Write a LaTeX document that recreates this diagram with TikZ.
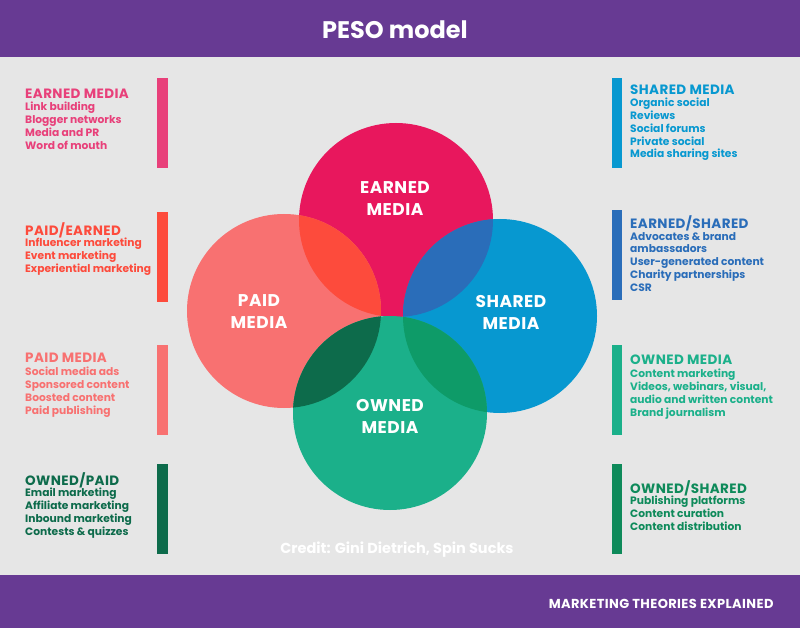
\documentclass[tikz,border=0pt]{standalone}
\usepackage{fontspec}
\setmainfont{Poppins}
\definecolor{bg}{HTML}{E6E6E6}
\definecolor{purp}{HTML}{673A93}
\definecolor{earn}{HTML}{E8175D}
\definecolor{paid}{HTML}{F87171}
\definecolor{share}{HTML}{0798D0}
\definecolor{own}{HTML}{1BB08A}
\definecolor{ep}{HTML}{FD4B3C}
\definecolor{es}{HTML}{2A6DB9}
\definecolor{po}{HTML}{0D6B4B}
\definecolor{so}{HTML}{0E9B68}
\definecolor{earnT}{HTML}{E8407A}
\definecolor{ownS}{HTML}{0E8A5A}
\begin{document}
\begin{tikzpicture}[x=1pt,y=-1pt,
  hd/.style={anchor=west,font=\fontsize{13.5}{15}\selectfont\bfseries\addfontfeature{LetterSpace=3},inner sep=0},
  it/.style={anchor=north west,align=left,font=\fontsize{10.7}{12.8}\selectfont\bfseries,inner sep=0},
  lab/.style={text=white,align=center,font=\fontsize{17}{22}\selectfont\bfseries\addfontfeature{LetterSpace=3}}]
\fill[bg] (0,0) rectangle (800,628);
\fill[purp] (0,0) rectangle (800,57);
\fill[purp] (0,575) rectangle (800,628);
\node[text=white,font=\fontsize{24}{28}\selectfont\bfseries] (title) at (395,30) {PESO model};
\node[text=white,anchor=east,font=\fontsize{13}{14}\selectfont\bfseries\addfontfeature{LetterSpace=3}] (foot) at (777,604) {MARKETING THEORIES EXPLAINED};
% circles
\coordinate (E) at (396,220); \coordinate (P) at (284,311);
\coordinate (S) at (500,316); \coordinate (O) at (390,413);
\def\r{97}
\fill[earn] (E) circle (\r); \fill[paid] (P) circle (\r);
\fill[share] (S) circle (\r); \fill[own] (O) circle (\r);
\begin{scope}\clip (E) circle (\r); \fill[ep] (P) circle (\r); \fill[es] (S) circle (\r);\end{scope}
\begin{scope}\clip (O) circle (\r); \fill[po] (P) circle (\r); \fill[so] (S) circle (\r);\end{scope}
\node[lab] (le) at (395,199) {EARNED\\MEDIA};
\node[lab] (lp) at (259,312) {PAID\\MEDIA};
\node[lab] (ls) at (511,312) {SHARED\\MEDIA};
\node[lab] (lo) at (390,416) {OWNED\\MEDIA};
\node[text=white,font=\fontsize{14.5}{16}\selectfont\bfseries] (credit) at (397,550) {Credit: Gini Dietrich, Spin Sucks};
% left
\fill[earnT] (157,78) rectangle (168,168);
\node[hd,text=earnT] (h1) at (25,94) {EARNED MEDIA};
\node[it,text=earnT] (t1) at (25,102) {Link building\\Blogger networks\\Media and PR\\Word of mouth};
\fill[ep] (157,212) rectangle (168,302);
\node[hd,text=ep] (h2) at (25,230) {PAID/EARNED};
\node[it,text=ep] (t2) at (25,238) {Influencer marketing\\Event marketing\\Experiential marketing};
\fill[paid] (157,345) rectangle (168,435);
\node[hd,text=paid] (h3) at (25,358) {PAID MEDIA};
\node[it,text=paid] (t3) at (25,367) {Social media ads\\Sponsored content\\Boosted content\\Paid publishing};
\fill[po] (157,464) rectangle (168,554);
\node[hd,text=po] (h4) at (25,480) {OWNED/PAID};
\node[it,text=po] (t4) at (25,488) {Email marketing\\Affiliate marketing\\Inbound marketing\\Contests \& quizzes};
% right
\fill[share] (612,78) rectangle (622,168);
\node[hd,text=share] (h5) at (630,90) {SHARED MEDIA};
\node[it,text=share] (t5) at (630,98) {Organic social\\Reviews\\Social forums\\Private social\\Media sharing sites};
\fill[es] (612,210) rectangle (622,300);
\node[hd,text=es] (h6) at (630,223) {EARNED/SHARED};
\node[it,text=es] (t6) at (630,232) {Advocates \& brand\\ambassadors\\User-generated content\\Charity partnerships\\CSR};
\fill[own] (612,345) rectangle (622,435);
\node[hd,text=own] (h7) at (630,360) {OWNED MEDIA};
\node[it,text=own] (t7) at (630,369) {Content marketing\\Videos, webinars, visual,\\audio and written content\\Brand journalism};
\fill[ownS] (612,464) rectangle (622,554);
\node[hd,text=ownS] (h8) at (630,488) {OWNED/SHARED};
\node[it,text=ownS] (t8) at (630,496) {Publishing platforms\\Content curation\\Content distribution};
\end{tikzpicture}
\end{document}
